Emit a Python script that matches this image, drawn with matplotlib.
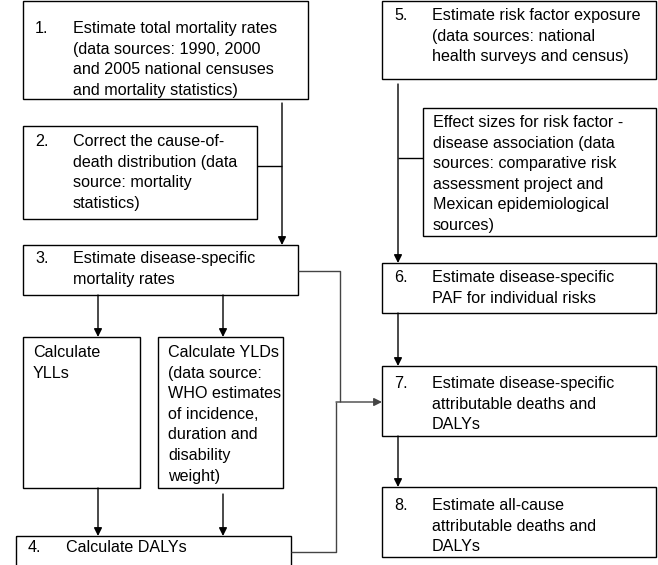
import matplotlib.pyplot as plt
from matplotlib.patches import Rectangle

plt.rcParams['font.family'] = ['Liberation Sans', 'DejaVu Sans']

# box texts
box1_text = ["Estimate total mortality rates", "(data sources: 1990, 2000",
             "and 2005 national censuses", "and mortality statistics)"]
box2_text = ["Correct the cause-of-", "death distribution (data",
             "source: mortality", "statistics)"]
box3_text = ["Estimate disease-specific", "mortality rates"]
yll_text = ["Calculate", "YLLs"]
yld_text = ["Calculate YLDs", "(data source:", "WHO estimates", "of incidence,",
            "duration and", "disability", "weight)"]
box4_text = ["Calculate DALYs"]
box5_text = ["Estimate risk factor exposure", "(data sources: national",
             "health surveys and census)"]
effect_text = ["Effect sizes for risk factor -", "disease association (data",
               "sources: comparative risk", "assessment project and",
               "Mexican epidemiological", "sources)"]
box6_text = ["Estimate disease-specific", "PAF for individual risks"]
box7_text = ["Estimate disease-specific", "attributable deaths and", "DALYs"]
box8_text = ["Estimate all-cause", "attributable deaths and", "DALYs"]

# layout in pixels: (x0, y0, x1, y1), number, lines, first baseline
boxes = [
    ((23, 1, 308, 99), "1.", box1_text, 33),
    ((23, 126, 257, 219), "2.", box2_text, 146),
    ((23, 245, 298, 295), "3.", box3_text, 263),
    ((23, 337, 140, 488), None, yll_text, 357),
    ((158, 337, 283, 488), None, yld_text, 357),
    ((16, 536, 291, 575), "4.", box4_text, 552),
    ((382, 1, 656, 79), "5.", box5_text, 20),
    ((423, 108, 656, 236), None, effect_text, 127),
    ((382, 263, 656, 313), "6.", box6_text, 282),
    ((382, 366, 656, 436), "7.", box7_text, 388),
    ((382, 487, 656, 557), "8.", box8_text, 510),
]
line_gap = 20.6
fs = 11.6

fig = plt.figure(figsize=(6.58, 5.65), dpi=100)
ax = fig.add_axes([0, 0, 1, 1])
ax.set_xlim(0, 658)
ax.set_ylim(565, 0)
ax.axis('off')

for (x0, y0, x1, y1), num, lines, base in boxes:
    ax.add_patch(Rectangle((x0, y0), x1 - x0, y1 - y0, fill=False,
                           edgecolor='black', lw=1.0))
    if num:
        ax.text(x0 + 12, base, num, fontsize=fs, va='baseline', ha='left')
        tx = x0 + 50
    else:
        tx = x0 + 10
    for i, s in enumerate(lines):
        ax.text(tx, base + i * line_gap, s, fontsize=fs, va='baseline',
                ha='left')


def arrow(x0, y0, x1, y1, color='black'):
    ax.annotate('', xy=(x1, y1), xytext=(x0, y0),
                arrowprops=dict(arrowstyle='-|>', color=color, lw=1.0,
                                mutation_scale=12, shrinkA=0, shrinkB=0))


def path(xs, ys, color='black'):
    ax.plot(xs, ys, color=color, lw=1.0, solid_capstyle='butt')


# left column
arrow(282, 103, 282, 245)
path([257, 282], [166, 166])
arrow(98, 295, 98, 337)
arrow(223, 295, 223, 337)
arrow(98, 488, 98, 536)
arrow(223, 494, 223, 536)

# cross links to box 7
path([298, 340, 340], [271, 271, 402], color='#444444')
arrow(336, 402, 382, 402, color='#444444')
path([291, 336, 336], [552, 552, 402], color='#444444')

# right column
arrow(398, 84, 398, 263)
path([398, 423], [158, 158])
arrow(398, 313, 398, 366)
arrow(398, 436, 398, 487)

fig.savefig('out.png', dpi=100)
